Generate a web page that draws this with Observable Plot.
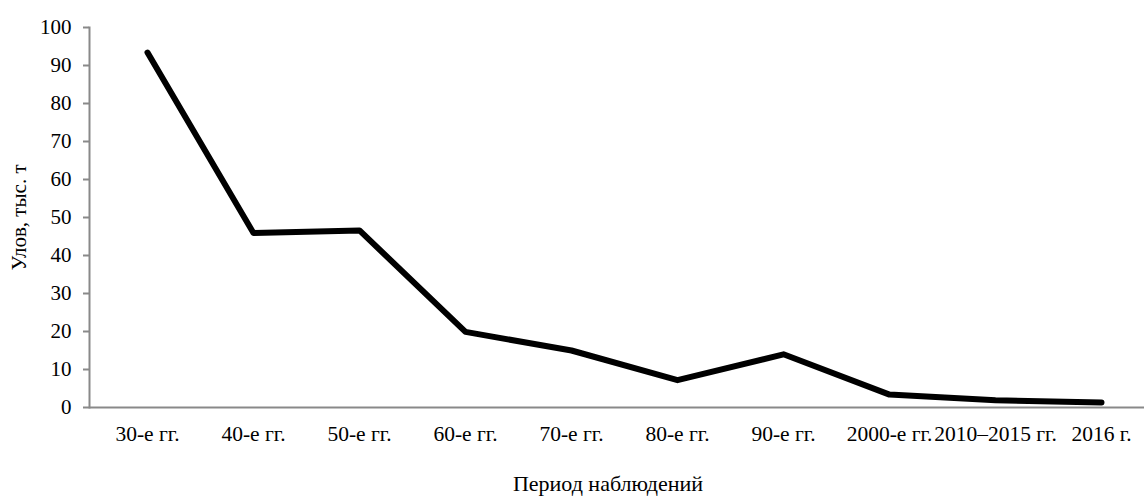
<!DOCTYPE html>
<html>
<head>
<meta charset="utf-8">
<script src="https://cdn.jsdelivr.net/npm/d3@7"></script>
<script src="https://cdn.jsdelivr.net/npm/@observablehq/plot@0.6"></script>
<style>
  body { margin: 0; background: #fff; overflow: hidden; }
</style>
</head>
<body>
<div id="chart"></div>
<script>
const categories = ["30-е гг.", "40-е гг.", "50-е гг.", "60-е гг.", "70-е гг.", "80-е гг.", "90-е гг.", "2000-е гг.", "2010–2015 гг.", "2016 г."];
const catch_ = [93.4, 45.9, 46.6, 19.9, 15.0, 7.2, 14.0, 3.4, 1.9, 1.3];
const yTicks = [0, 10, 20, 30, 40, 50, 60, 70, 80, 90, 100];
const yLabel = "Улов, тыс. т";
const xLabel = "Период наблюдений";

const data = categories.map((c, i) => ({ period: c, value: catch_[i] }));
const axisColor = "#898989";
const font = "Liberation Serif, Times New Roman, serif";

const chart = Plot.plot({
  width: 1144,
  height: 498,
  marginLeft: 89,
  marginRight: 0,
  marginTop: 27,
  marginBottom: 91,
  style: { fontSize: "21px", fontFamily: font, color: "#000", background: "#fff", overflow: "visible" },
  x: { type: "point", domain: categories, padding: 0.5, range: [89.6, 1157.6] },
  y: { domain: [0, 100] },
  marks: [
    Plot.frame({ anchor: "left", stroke: axisColor, strokeWidth: 2 }),
    Plot.ruleY([0], { stroke: axisColor, strokeWidth: 2 }),
    Plot.axisY(yTicks, { tickSize: 6, tickPadding: 12, stroke: axisColor, strokeWidth: 2, fill: "#000", fontSize: 21, label: null }),
    Plot.axisX({ tickSize: 0, tickPadding: 18, fill: "#000", fontSize: 21.5, label: null }),
    Plot.line(data, { x: "period", y: "value", stroke: "#000", strokeWidth: 6, strokeLinecap: "round", strokeLinejoin: "round" }),
    Plot.text([yLabel], { frameAnchor: "left", textAnchor: "middle", lineAnchor: "middle", rotate: -90, dx: -70, fontSize: 21, fontFamily: font, fill: "#000" }),
    Plot.text([xLabel], { frameAnchor: "bottom", textAnchor: "middle", dx: -9, dy: 83, fontSize: 22, fontFamily: font, fill: "#000" })
  ]
});
document.getElementById("chart").appendChild(chart);
</script>
</body>
</html>
